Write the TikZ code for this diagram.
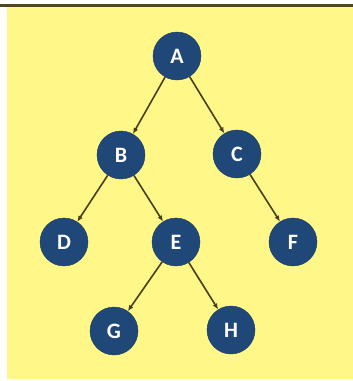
\documentclass[tikz,border=0pt]{standalone}
\usepackage{fontspec}
\setsansfont{Carlito}
\usepackage{tikz}
\usetikzlibrary{arrows.meta}
\definecolor{treeblue}{RGB}{31,71,120}
\definecolor{paper}{RGB}{255,247,135}
\definecolor{linkbrown}{RGB}{72,62,28}
\tikzset{treenode/.style={circle,fill=treeblue,draw=treeblue!85!black,minimum size=48pt,inner sep=0pt,
   text=white,font=\sffamily\bfseries\fontsize{22}{22}\selectfont},
 link/.style={draw=linkbrown,line width=1.6pt,-{Latex[length=6pt,width=5pt]}},
 }

\begin{document}
\begin{tikzpicture}[x=1pt,y=-1pt]
        \useasboundingbox (0,0) rectangle (353,381);
        \fill[white] (0,0) rectangle (353,381);
        \fill[paper] (7,7) rectangle (353,379);
        \draw[line width=3pt,color=linkbrown!90!gray] (0,5) -- (353,5);
        \node[treenode] (a) at (177,56) {A};
        \node[treenode] (b) at (121,155) {B};
        \node[treenode] (c) at (237,154) {C};
        \node[treenode] (d) at (64,242) {D};
        \node[treenode] (e) at (176,242) {E};
        \node[treenode] (f) at (293,242) {F};
        \node[treenode] (g) at (114,331) {G};
        \node[treenode] (h) at (231,330) {H};
        \draw[link] (a) -- (b);
        \draw[link] (a) -- (c);
        \draw[link] (b) -- (d);
        \draw[link] (b) -- (e);
        \draw[link] (c) -- (f);
        \draw[link] (e) -- (g);
        \draw[link] (e) -- (h);
    \end{tikzpicture}
\end{document}
